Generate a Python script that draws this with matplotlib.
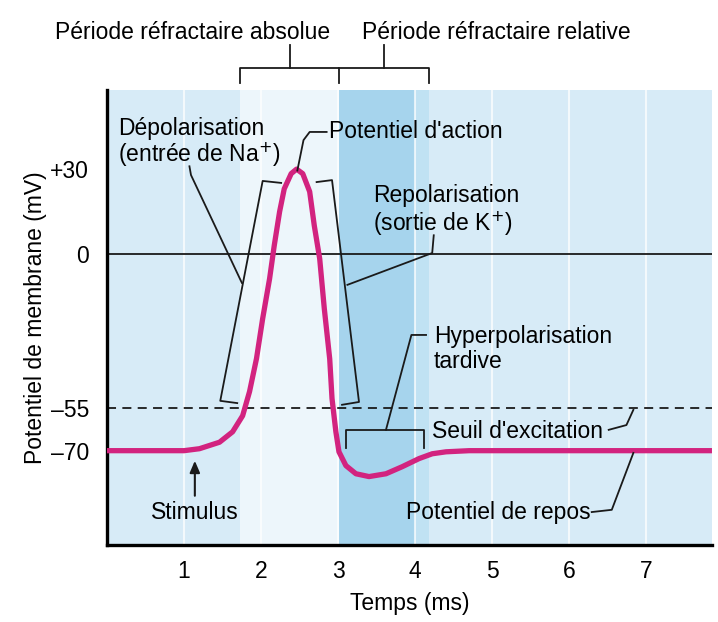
import numpy as np
import matplotlib
matplotlib.use("Agg")
import matplotlib.pyplot as plt

plt.rcParams['font.family'] = ['Liberation Sans', 'DejaVu Sans']

# action potential (ms, mV)
t_ms = [0.0, 1.00, 1.20, 1.46, 1.63, 1.76, 1.85, 1.94, 2.02, 2.11, 2.17,
        2.24, 2.30, 2.39, 2.46, 2.54, 2.63, 2.69, 2.76, 2.82, 2.89, 2.92,
        2.97, 3.01, 3.10, 3.23, 3.40, 3.62, 3.83, 4.05, 4.22, 4.40, 4.70, 7.85]
v_mv = [-70, -70, -69.3, -67.0, -63.3, -57.6, -49.0, -37.3, -23.1, -8.9, 2.8,
        14.9, 23.0, 28.4, 30.0, 28.4, 22.0, 9.9, -1.8, -19.6, -37.4, -51.5,
        -63.3, -70.4, -75.3, -78.2, -79.2, -78.2, -75.7, -72.8, -71.1, -70.4, -70, -70]

x_ticks = [1, 2, 3, 4, 5, 6, 7]
y_ticks = [30, 0, -55, -70]
y_labels = ["+30", "0", "\u201355", "\u201370"]
threshold = -55
abs_period = (1.72, 3.01)
rel_period = (3.01, 4.18)

fig = plt.figure(figsize=(7.18, 6.22), dpi=100)
ax = fig.add_axes([0.149, 0.1238, 0.8426, 0.7315])
ax.set_xlim(0, 7.85)
ax.set_ylim(-103.5, 58.1)

bg = "#d7ebf7"
ax.set_facecolor(bg)
ax.axvspan(abs_period[0], abs_period[1], color="#edf6fb", lw=0, zorder=0)
ax.axvspan(rel_period[0], 4.0, color="#a6d4ed", lw=0, zorder=0)
ax.axvspan(4.0, rel_period[1], color="#c0e2f3", lw=0, zorder=0)
for xt in x_ticks:
    ax.axvline(xt, color="white", lw=1.5, alpha=0.7, zorder=0.5)

fs = 16.5
ax.axhline(0, color="#1a1a1a", lw=1.3, zorder=2)
ax.axhline(threshold, color="#1a1a1a", lw=1.3, ls=(0, (5, 3.5)), zorder=2)

ax.plot(t_ms, v_mv, color="#d2237f", lw=3.8, solid_capstyle="butt",
        solid_joinstyle="round", zorder=4)

for s in ["top", "right"]:
    ax.spines[s].set_visible(False)
for s in ["left", "bottom"]:
    ax.spines[s].set_linewidth(2.4)
    ax.spines[s].set_color("black")

ax.set_xticks(x_ticks)
ax.set_xticklabels([str(v) for v in x_ticks], fontsize=fs)
ax.set_yticks(y_ticks)
ax.set_yticklabels(y_labels, fontsize=fs)
ax.tick_params(axis="y", length=0, pad=13)
ax.tick_params(axis="x", length=0, pad=11)
ax.set_xlabel("Temps (ms)", fontsize=fs, labelpad=6)
ax.set_ylabel("Potentiel de membrane (mV)", fontsize=fs, labelpad=2)

lk = dict(color="#1a1a1a", lw=1.3, clip_on=False, zorder=5)

# top brackets (refractory periods)
ax.plot([abs_period[0], abs_period[0], abs_period[1], abs_period[1]],
        [60.6, 65.9, 65.9, 60.6], **lk)
ax.plot([rel_period[0], rel_period[1], rel_period[1]], [65.9, 65.9, 60.6], **lk)
ax.plot([2.37, 2.37], [65.9, 74.1], **lk)
ax.plot([3.60, 3.60], [65.9, 74.1], **lk)
ax.text(1.11, 78.7, "Période réfractaire absolue", fontsize=fs, ha="center", va="center")
ax.text(5.05, 78.7, "Période réfractaire relative", fontsize=fs, ha="center", va="center")

# depolarisation
ax.plot([2.26, 2.02, 1.47, 1.69], [25.1, 25.8, -52.3, -53.1], **lk)
ax.plot([1.75, 1.09, 1.07], [-10.4, 27.9, 31.0], **lk)
ax.text(0.14, 44.6, "Dépolarisation", fontsize=fs, va="center")
ax.text(0.14, 35.0, "(entrée de Na$^{+}$)", fontsize=fs, va="center")

# repolarisation
ax.plot([2.72, 2.92, 3.27, 3.05], [25.4, 26.1, -52.7, -53.7], **lk)
ax.plot([3.12, 4.22, 4.24], [-11.1, 0.2, 6.5], **lk)
ax.text(3.45, 20.5, "Repolarisation", fontsize=fs, va="center")
ax.text(3.45, 10.5, "(sortie de K$^{+}$)", fontsize=fs, va="center")

# potentiel d'action
ax.plot([2.47, 2.55, 2.63, 2.85], [29.5, 40.3, 43.2, 43.2], **lk)
ax.text(2.88, 43.2, "Potentiel d'action", fontsize=fs, va="center")

# hyperpolarisation
ax.plot([3.10, 3.10, 4.11, 4.11], [-69.0, -62.6, -62.6, -69.0], **lk)
ax.plot([3.62, 3.95, 4.14], [-62.6, -28.9, -28.9], **lk)
ax.text(4.24, -29.6, "Hyperpolarisation", fontsize=fs, va="center")
ax.text(4.24, -38.5, "tardive", fontsize=fs, va="center")

# seuil
ax.text(4.22, -63.3, "Seuil d'excitation", fontsize=fs, va="center")
ax.plot([6.51, 6.74, 6.83], [-62.6, -60.9, -55.5], **lk)

# repos
ax.text(3.88, -91.8, "Potentiel de repos", fontsize=fs, va="center")
ax.plot([6.29, 6.55, 6.83], [-91.8, -91.0, -70.8], **lk)

# stimulus
ax.annotate("", xy=(1.14, -72.6), xytext=(1.14, -87.0),
            arrowprops=dict(arrowstyle="-|>,head_length=0.7,head_width=0.3",
                            color="#1a1a1a", lw=1.5), zorder=5)
ax.text(1.14, -91.8, "Stimulus", fontsize=fs, ha="center", va="center")

fig.savefig("out.png", dpi=100)
